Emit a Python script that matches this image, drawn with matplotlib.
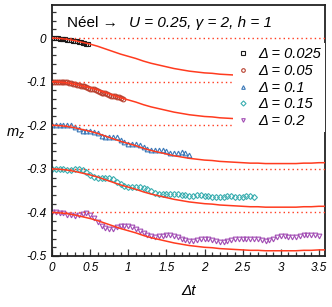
import numpy as np
import matplotlib
matplotlib.use("Agg")
import matplotlib.pyplot as plt
from matplotlib.ticker import MultipleLocator

plt.rcParams['font.family'] = ['Liberation Sans', 'DejaVu Sans']
plt.rcParams['mathtext.fontset'] = 'custom'
plt.rcParams['mathtext.it'] = 'Liberation Sans:italic'
plt.rcParams['mathtext.rm'] = 'Liberation Sans'

# ---------------- data ----------------
deltas = [0.025, 0.05, 0.1, 0.15, 0.2]
labels = ["Δ = 0.025", "Δ = 0.05", "Δ = 0.1", "Δ = 0.15", "Δ = 0.2"]
offsets = [0.0, -0.1, -0.2, -0.3, -0.4]

# theory curve (same shape for every Δ, shifted by offset)
curve_t = [0.0, 0.1, 0.2, 0.3, 0.4, 0.5, 0.6, 0.7, 0.8, 0.9, 1.0, 1.1, 1.2,
           1.3, 1.4, 1.5, 1.6, 1.7, 1.8, 1.9, 2.0, 2.1, 2.2, 2.3, 2.4, 2.5,
           2.6, 2.7, 2.8, 2.9, 3.0, 3.1, 3.2, 3.3, 3.4, 3.5, 3.6]
curve_m = [0.000, -0.001, -0.003, -0.006, -0.010, -0.014, -0.019, -0.025,
           -0.031, -0.037, -0.042, -0.047, -0.053, -0.058, -0.062, -0.066,
           -0.070, -0.073, -0.076, -0.078, -0.080, -0.081, -0.083, -0.084,
           -0.085, -0.086, -0.087, -0.087, -0.088, -0.088, -0.088, -0.088,
           -0.088, -0.087, -0.087, -0.086, -0.086]

# numerical data, Δt on x
t_0025 = [0.0, 0.025, 0.05, 0.075, 0.1, 0.125, 0.15, 0.175, 0.2, 0.225, 0.25,
          0.275, 0.3, 0.325, 0.35, 0.375, 0.4, 0.425, 0.45, 0.475]
m_0025 = [0.0, 0.0, -0.0005, -0.001, -0.0015, -0.002, -0.0025, -0.003, -0.004,
          -0.0045, -0.005, -0.006, -0.007, -0.008, -0.009, -0.010, -0.011,
          -0.012, -0.013, -0.014]

t_005 = [0.0, 0.025, 0.05, 0.075, 0.1, 0.125, 0.15, 0.175, 0.2, 0.225, 0.25,
         0.275, 0.3, 0.325, 0.35, 0.375, 0.4, 0.425, 0.45, 0.475, 0.5, 0.525,
         0.55, 0.575, 0.6, 0.625, 0.65, 0.675, 0.7, 0.725, 0.75, 0.775, 0.8,
         0.825, 0.85, 0.875, 0.9, 0.925]
m_005 = [-0.100, -0.100, -0.100, -0.100, -0.100, -0.100, -0.101, -0.101,
         -0.102, -0.103, -0.104, -0.105, -0.106, -0.107, -0.108, -0.109,
         -0.110, -0.111, -0.113, -0.115, -0.116, -0.117, -0.118, -0.120,
         -0.122, -0.124, -0.125, -0.126, -0.127, -0.129, -0.131, -0.133,
         -0.134, -0.134, -0.135, -0.136, -0.138, -0.139]

t_01 = [0.0, 0.05, 0.1, 0.15, 0.2, 0.25, 0.3, 0.35, 0.4, 0.45, 0.5, 0.55, 0.6,
        0.65, 0.7, 0.75, 0.8, 0.85, 0.9, 0.95, 1.0, 1.05, 1.1, 1.15, 1.2,
        1.25, 1.3, 1.35, 1.4, 1.45, 1.5, 1.55, 1.6, 1.65, 1.7, 1.75, 1.8]
m_01 = [-0.200, -0.200, -0.200, -0.200, -0.200, -0.200, -0.203, -0.209,
        -0.213, -0.214, -0.214, -0.215, -0.219, -0.224, -0.226, -0.226,
        -0.226, -0.228, -0.233, -0.239, -0.242, -0.243, -0.244, -0.246,
        -0.250, -0.254, -0.256, -0.257, -0.257, -0.258, -0.260, -0.263,
        -0.264, -0.263, -0.262, -0.263, -0.268]

t_015 = [0.0, 0.05, 0.1, 0.15, 0.2, 0.25, 0.3, 0.35, 0.4, 0.45, 0.5, 0.55,
         0.6, 0.65, 0.7, 0.75, 0.8, 0.85, 0.9, 0.95, 1.0, 1.05, 1.1, 1.15,
         1.2, 1.25, 1.3, 1.35, 1.4, 1.45, 1.5, 1.55, 1.6, 1.65, 1.7, 1.75,
         1.8, 1.85, 1.9, 1.95, 2.0, 2.05, 2.1, 2.15, 2.2, 2.25, 2.3, 2.35,
         2.4, 2.45, 2.5, 2.55, 2.6, 2.65]
m_015 = [-0.300, -0.300, -0.300, -0.301, -0.302, -0.302, -0.301, -0.301,
         -0.302, -0.307, -0.314, -0.319, -0.321, -0.321, -0.320, -0.321,
         -0.324, -0.330, -0.336, -0.340, -0.342, -0.342, -0.341, -0.341,
         -0.343, -0.347, -0.351, -0.355, -0.357, -0.358, -0.358, -0.357,
         -0.357, -0.358, -0.360, -0.361, -0.362, -0.362, -0.361, -0.361,
         -0.362, -0.363, -0.364, -0.365, -0.365, -0.364, -0.363, -0.363,
         -0.364, -0.365, -0.364, -0.362, -0.362, -0.364]

t_02 = [0.0, 0.05, 0.1, 0.15, 0.2, 0.25, 0.3, 0.35, 0.4, 0.45, 0.5, 0.55,
        0.6, 0.65, 0.7, 0.75, 0.8, 0.85, 0.9, 0.95, 1.0, 1.05, 1.1, 1.15,
        1.2, 1.25, 1.3, 1.35, 1.4, 1.45, 1.5, 1.55, 1.6, 1.65, 1.7, 1.75,
        1.8, 1.85, 1.9, 1.95, 2.0, 2.05, 2.1, 2.15, 2.2, 2.25, 2.3, 2.35,
        2.4, 2.45, 2.5, 2.55, 2.6, 2.65, 2.7, 2.75, 2.8, 2.85, 2.9, 2.95,
        3.0, 3.05, 3.1, 3.15, 3.2, 3.25, 3.3, 3.35, 3.4, 3.45, 3.5]
m_02 = [-0.400, -0.400, -0.401, -0.402, -0.405, -0.407, -0.408, -0.406,
        -0.403, -0.402, -0.405, -0.412, -0.422, -0.431, -0.436, -0.438,
        -0.437, -0.434, -0.432, -0.431, -0.432, -0.434, -0.438, -0.443,
        -0.448, -0.452, -0.455, -0.456, -0.455, -0.453, -0.452, -0.452,
        -0.453, -0.456, -0.460, -0.463, -0.465, -0.465, -0.464, -0.462,
        -0.461, -0.462, -0.464, -0.466, -0.467, -0.467, -0.466, -0.464,
        -0.462, -0.461, -0.461, -0.461, -0.461, -0.462, -0.462, -0.464,
        -0.465, -0.464, -0.461, -0.457, -0.455, -0.455, -0.456, -0.457,
        -0.456, -0.454, -0.452, -0.451, -0.451, -0.452, -0.453]

series_t = [t_0025, t_005, t_01, t_015, t_02]
series_m = [m_0025, m_005, m_01, m_015, m_02]

x_ticks = [0, 0.5, 1, 1.5, 2, 2.5, 3, 3.5]
x_ticklabels = ["0", "0.5", "1", "1.5", "2", "2.5", "3", "3.5"]
y_ticks = [0, -0.1, -0.2, -0.3, -0.4, -0.5]
y_ticklabels = ["0", "-0.1", "-0.2", "-0.3", "-0.4", "-0.5"]

# ---------------- style ----------------
colors = ["#1a1a1a", "#b8402f", "#3a78b8", "#3aaeb0", "#a24db4"]
markers = ["s", "o", "^", "D", "v"]
msizes = [3.0, 3.4, 3.4, 3.0, 3.4]
curve_color = "#ff3b1f"

fig = plt.figure(figsize=(3.32, 3.07), dpi=100)
ax = fig.add_axes([52 / 332, 1 - 256 / 307, (325 - 52) / 332, (256 - 5) / 307])

handles = []
for t, m, c, mk, ms, lab in zip(series_t, series_m, colors, markers, msizes, labels):
    ax.plot(t, m, linestyle="none", marker=mk, ms=ms, mfc="none",
            mec=c, mew=0.8, zorder=2)
    h, = ax.plot([], [], linestyle="none", marker=mk, ms=2.6, mfc="none",
                 mec=c, mew=0.8, label=lab)
    handles.append(h)

for off in offsets:
    ax.plot(curve_t, np.array(curve_m) + off, color=curve_color, lw=1.1, zorder=3)
    ax.axhline(off, color=curve_color, lw=1.0, ls=(0, (1, 2.2)), zorder=3)

ax.set_xlim(0, 3.58)
ax.set_ylim(-0.5, 0.0757)

ax.set_xticks(x_ticks)
ax.set_xticklabels(x_ticklabels, fontstyle="italic", fontsize=8.5)
ax.set_yticks(y_ticks)
ax.set_yticklabels(y_ticklabels, fontstyle="italic", fontsize=8.5)
ax.xaxis.set_minor_locator(MultipleLocator(0.1))
ax.yaxis.set_minor_locator(MultipleLocator(0.02))
ax.tick_params(which="both", direction="in", top=False, right=False,
               width=0.9, color="#333333")
ax.tick_params(which="major", length=5, pad=4)
ax.tick_params(which="minor", length=2.8)
for sp in ax.spines.values():
    sp.set_linewidth(1.3)
    sp.set_color("#222222")

ax.text(0.5, -0.11, "Δt", transform=ax.transAxes, ha="center", va="top",
        fontsize=11, fontstyle="italic")
fig.text(6 / 332, 1 - 134 / 307, "$m_z$", ha="left", va="center", fontsize=10.5)

ax.text(0.197, 0.034, "Néel →", fontsize=11, va="center", ha="left", zorder=6)
ax.text(1.01, 0.034, "U = 0.25, γ = 2, h = 1", fontsize=11, va="center",
        ha="left", fontstyle="italic", zorder=6)

leg = ax.legend(handles=handles, loc="upper right",
                bbox_to_anchor=(1.0, (256 - 43) / 251), frameon=True,
                facecolor="white", edgecolor="none", fancybox=False,
                framealpha=1.0, fontsize=10.5, handlelength=0.8,
                handletextpad=0.6, labelspacing=0.18, borderpad=0.3,
                borderaxespad=0.0, markerscale=1.0)
for txt in leg.get_texts():
    txt.set_fontstyle("italic")

fig.savefig("out.png", dpi=100)
